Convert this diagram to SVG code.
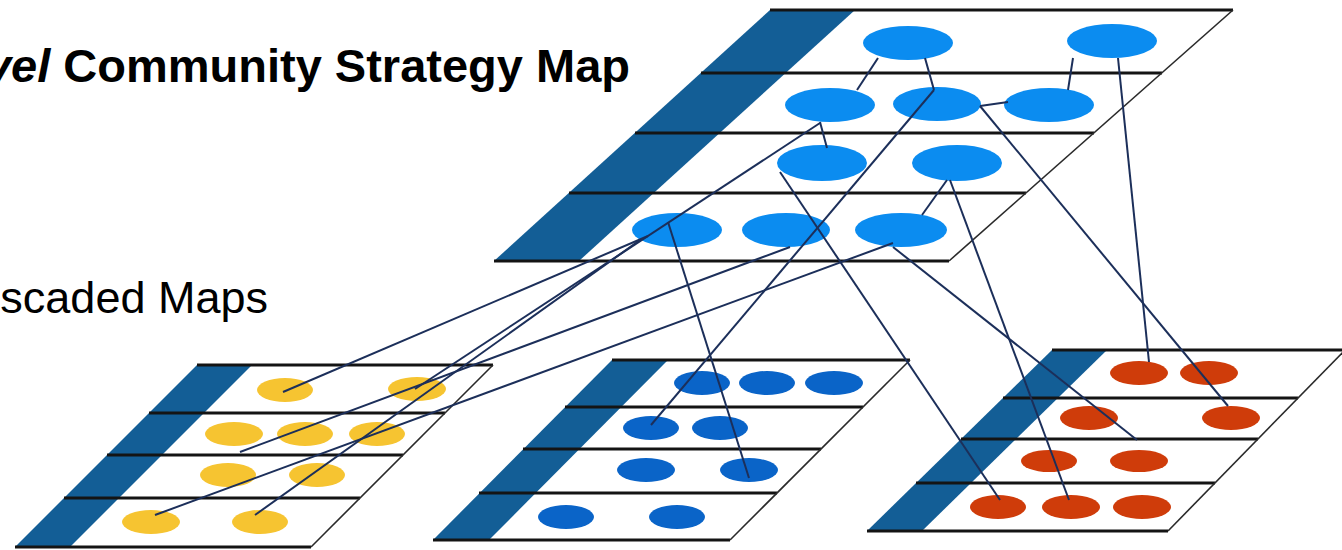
<svg xmlns="http://www.w3.org/2000/svg" width="1342" height="550" viewBox="0 0 1342 550">
<style>
.strip{fill:#135e96}
.row{stroke:#141414;stroke-width:2.8;fill:none}
.edge{stroke:#2a2a2a;stroke-width:1.6;fill:none}
.big{fill:#0b8cf0}
.blu{fill:#0a64c8}
.yel{fill:#f6c431}
.red{fill:#cf3c0a}
.con line{stroke:#1c2f5a;stroke-width:2}
.t{font-family:"Liberation Sans",Arial,sans-serif;fill:#000}
</style>
<rect width="1342" height="550" fill="#fff"/>
<text class="t" x="630" y="82" font-size="47" font-weight="bold" text-anchor="end"><tspan font-style="italic">vel</tspan> Community Strategy Map</text>
<text class="t" x="268" y="313" font-size="45" text-anchor="end">scaded Maps</text>

<g id="map-top">
<polygon class="strip" points="770,10 855,10 579,261 494,261"/>
<line class="row" x1="770" y1="10" x2="1233" y2="10"/>
<line class="row" x1="701" y1="73" x2="1162" y2="73"/>
<line class="row" x1="635" y1="133" x2="1094" y2="133"/>
<line class="row" x1="569" y1="193" x2="1026" y2="193"/>
<line class="row" x1="494" y1="261" x2="949" y2="261"/>
<line class="edge" x1="1233" y1="10" x2="949" y2="261"/>
</g>
<g id="map-yellow">
<polygon class="strip" points="197,365 252,365 70,547 15,547"/>
<line class="row" x1="197" y1="365" x2="493" y2="365"/>
<line class="row" x1="149" y1="413" x2="445" y2="413"/>
<line class="row" x1="107" y1="455" x2="403" y2="455"/>
<line class="row" x1="64" y1="498" x2="360" y2="498"/>
<line class="row" x1="15" y1="547" x2="311" y2="547"/>
<line class="edge" x1="493" y1="365" x2="311" y2="547"/>
</g>
<g id="map-blue">
<polygon class="strip" points="612,360 668,360 489,540 433,540"/>
<line class="row" x1="612" y1="360" x2="910" y2="360"/>
<line class="row" x1="565" y1="407" x2="863" y2="407"/>
<line class="row" x1="523" y1="449" x2="821" y2="449"/>
<line class="row" x1="479" y1="493" x2="777" y2="493"/>
<line class="row" x1="433" y1="540" x2="730" y2="540"/>
<line class="edge" x1="910" y1="360" x2="730" y2="540"/>
</g>
<g id="map-red">
<polygon class="strip" points="1052,350 1107,350 922,531 867,531"/>
<line class="row" x1="1052" y1="350" x2="1345" y2="350"/>
<line class="row" x1="1003" y1="398" x2="1298" y2="398"/>
<line class="row" x1="961" y1="439" x2="1258" y2="439"/>
<line class="row" x1="916" y1="483" x2="1215" y2="483"/>
<line class="row" x1="867" y1="531" x2="1168" y2="531"/>
<line class="edge" x1="1345" y1="350" x2="1168" y2="531"/>
</g>

<g id="top-r1-1"><ellipse class="big" cx="908" cy="43" rx="45" ry="17"/></g>
<g id="top-r1-2"><ellipse class="big" cx="1112" cy="41" rx="45" ry="17"/></g>
<g id="top-r2-1"><ellipse class="big" cx="830" cy="105" rx="45" ry="17"/></g>
<g id="top-r2-2"><ellipse class="big" cx="937" cy="104" rx="44" ry="17"/></g>
<g id="top-r2-3"><ellipse class="big" cx="1049" cy="105" rx="45" ry="17"/></g>
<g id="top-r3-1"><ellipse class="big" cx="822" cy="163" rx="45" ry="18"/></g>
<g id="top-r3-2"><ellipse class="big" cx="957" cy="163" rx="45" ry="18"/></g>
<g id="top-r4-1"><ellipse class="big" cx="677" cy="230" rx="45" ry="17"/></g>
<g id="top-r4-2"><ellipse class="big" cx="786" cy="230" rx="44" ry="17"/></g>
<g id="top-r4-3"><ellipse class="big" cx="901" cy="230" rx="46" ry="17"/></g>

<g id="y-r1-1"><ellipse class="yel" cx="285" cy="390" rx="28" ry="12"/></g>
<g id="y-r1-2"><ellipse class="yel" cx="417" cy="389" rx="29" ry="12"/></g>
<g id="y-r2-1"><ellipse class="yel" cx="234" cy="434" rx="29" ry="12"/></g>
<g id="y-r2-2"><ellipse class="yel" cx="305" cy="434" rx="28" ry="12"/></g>
<g id="y-r2-3"><ellipse class="yel" cx="377" cy="434" rx="28" ry="12"/></g>
<g id="y-r3-1"><ellipse class="yel" cx="228" cy="475" rx="28" ry="12"/></g>
<g id="y-r3-2"><ellipse class="yel" cx="317" cy="475" rx="28" ry="12"/></g>
<g id="y-r4-1"><ellipse class="yel" cx="151" cy="522" rx="29" ry="12"/></g>
<g id="y-r4-2"><ellipse class="yel" cx="260" cy="522" rx="28" ry="12"/></g>

<g id="b-r1-1"><ellipse class="blu" cx="702" cy="383" rx="28" ry="12"/></g>
<g id="b-r1-2"><ellipse class="blu" cx="767" cy="383" rx="28" ry="12"/></g>
<g id="b-r1-3"><ellipse class="blu" cx="834" cy="383" rx="29" ry="12"/></g>
<g id="b-r2-1"><ellipse class="blu" cx="651" cy="428" rx="28" ry="12"/></g>
<g id="b-r2-2"><ellipse class="blu" cx="720" cy="428" rx="28" ry="12"/></g>
<g id="b-r3-1"><ellipse class="blu" cx="646" cy="470" rx="29" ry="12"/></g>
<g id="b-r3-2"><ellipse class="blu" cx="749" cy="470" rx="29" ry="12"/></g>
<g id="b-r4-1"><ellipse class="blu" cx="566" cy="517" rx="28" ry="12"/></g>
<g id="b-r4-2"><ellipse class="blu" cx="677" cy="517" rx="28" ry="12"/></g>

<g id="r-r1-1"><ellipse class="red" cx="1139" cy="373" rx="29" ry="12"/></g>
<g id="r-r1-2"><ellipse class="red" cx="1209" cy="373" rx="29" ry="12"/></g>
<g id="r-r2-1"><ellipse class="red" cx="1089" cy="418" rx="29" ry="12"/></g>
<g id="r-r2-2"><ellipse class="red" cx="1231" cy="418" rx="29" ry="12"/></g>
<g id="r-r3-1"><ellipse class="red" cx="1049" cy="461" rx="28" ry="11"/></g>
<g id="r-r3-2"><ellipse class="red" cx="1139" cy="461" rx="29" ry="11"/></g>
<g id="r-r4-1"><ellipse class="red" cx="998" cy="507" rx="28" ry="12"/></g>
<g id="r-r4-2"><ellipse class="red" cx="1071" cy="507" rx="29" ry="12"/></g>
<g id="r-r4-3"><ellipse class="red" cx="1142" cy="507" rx="29" ry="12"/></g>

<g id="connectors" class="con">
<line x1="878" y1="58" x2="857" y2="90"/>
<line x1="925" y1="58" x2="934" y2="90"/>
<line x1="1073" y1="58" x2="1068" y2="90"/>
<line x1="980" y1="106" x2="1008" y2="102"/>
<line x1="820" y1="122" x2="827" y2="148"/>
<line x1="947" y1="180" x2="922" y2="215"/>
<line x1="668" y1="222" x2="749" y2="478"/>
<line x1="934" y1="90" x2="651" y2="425"/>
<line x1="780" y1="172" x2="1000" y2="500"/>
<line x1="950" y1="180" x2="1069" y2="500"/>
<line x1="893" y1="247" x2="1137" y2="440"/>
<line x1="980" y1="106" x2="1228" y2="406"/>
<line x1="1118" y1="58" x2="1149" y2="362"/>
<line x1="648" y1="236" x2="283" y2="392"/>
<line x1="820" y1="123" x2="415" y2="389"/>
<line x1="640" y1="240" x2="255" y2="515"/>
<line x1="790" y1="247" x2="240" y2="452"/>
<line x1="893" y1="243" x2="155" y2="515"/>
</g>
</svg>
